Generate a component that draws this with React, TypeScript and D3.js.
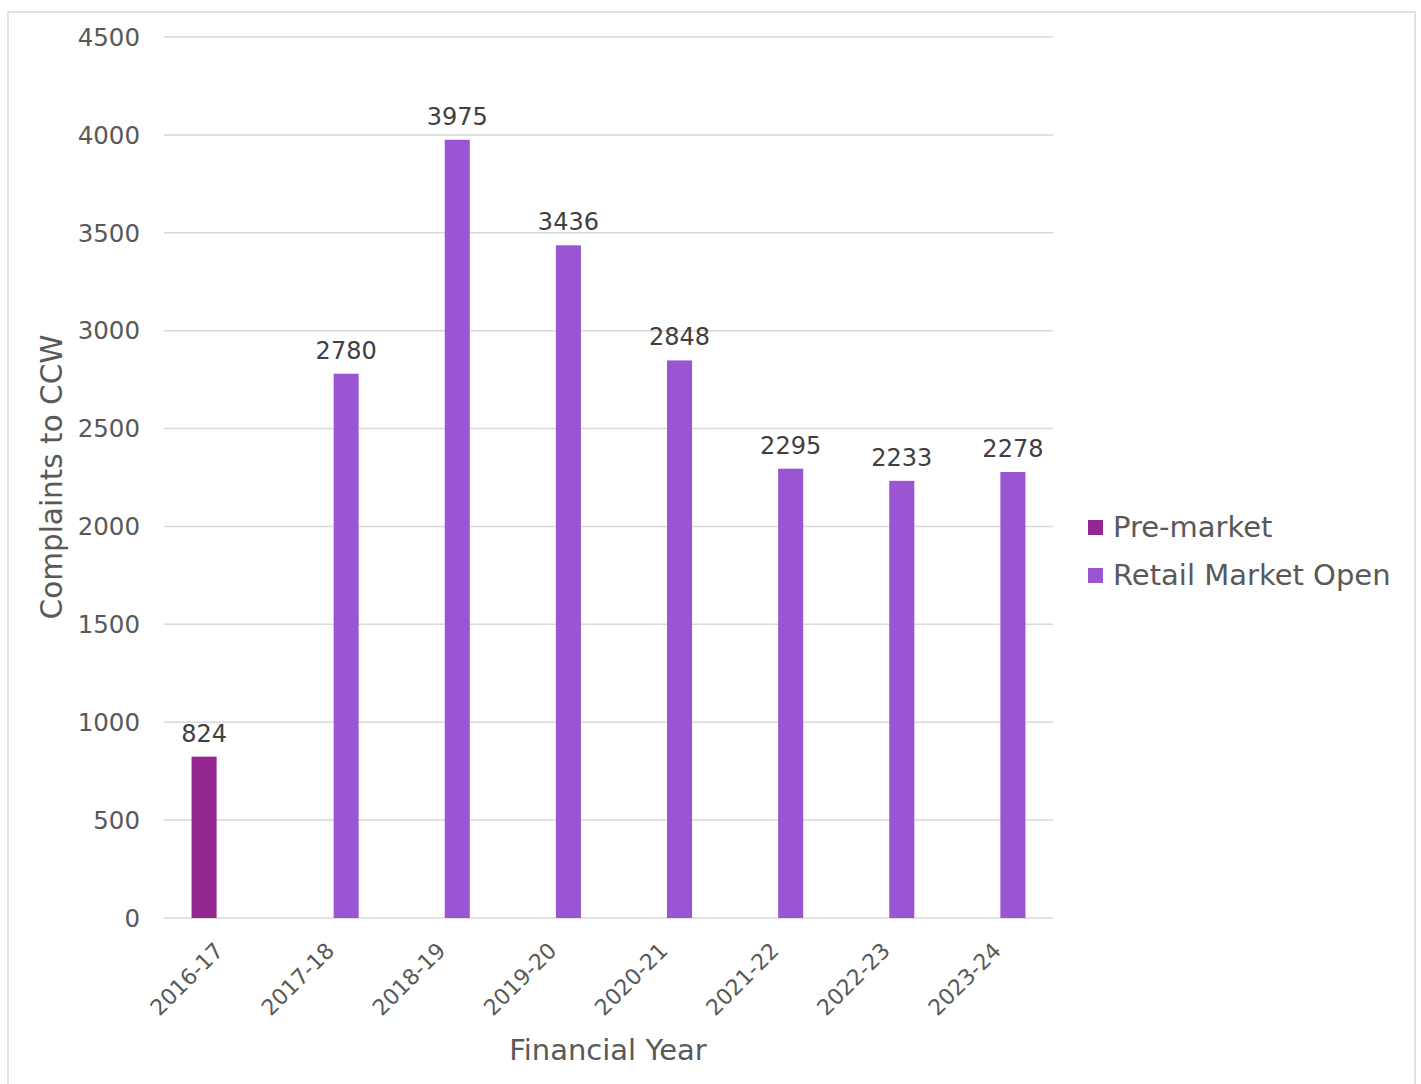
import React from "react";
import * as d3 from "d3";

const categories = ["2016-17", "2017-18", "2018-19", "2019-20", "2020-21", "2021-22", "2022-23", "2023-24"];
const seriesNames = ["Pre-market", "Retail Market Open"];
const preMarket: (number | null)[] = [824, null, null, null, null, null, null, null];
const retailOpen: (number | null)[] = [null, 2780, 3975, 3436, 2848, 2295, 2233, 2278];
const seriesColors = ["#93278F", "#9A56D2"];
const yTicks = [0, 500, 1000, 1500, 2000, 2500, 3000, 3500, 4000, 4500];

const FONT = "'DejaVu Sans', sans-serif";

export default function App() {
  const W = 1421, H = 1084;
  const left = 164, right = 1053, top = 37, bottom = 918;
  const x0 = d3.scaleBand<string>().domain(categories).range([left, right]).padding(0);
  const half = 28;
  const x1 = d3.scaleBand<string>().domain(seriesNames)
    .range([x0.bandwidth() / 2 - half, x0.bandwidth() / 2 + half]).paddingInner(0.19);
  const y = d3.scaleLinear().domain([0, 4500]).range([bottom, top]);
  const seriesData = [preMarket, retailOpen];

  return (
    <svg width={W} height={H} style={{ position: "absolute", left: 0, top: 0, background: "#fff" }} fontFamily={FONT}>
      <rect x={8} y={12} width={1407} height={1090} fill="#fff" stroke="#D9D9D9" strokeWidth={1.5} />
      {yTicks.map((t) => (
        <g key={t}>
          <line x1={left} x2={right} y1={y(t)} y2={y(t)} stroke="#D9D9D9" strokeWidth={1.5} />
          <text x={140} y={y(t)} dy="0.36em" textAnchor="end" fontSize={24.5} fill="#595959">{t}</text>
        </g>
      ))}
      {seriesData.map((vals, si) =>
        vals.map((v, ci) => {
          if (v == null) return null;
          const bx = (x0(categories[ci]) as number) + (x1(seriesNames[si]) as number);
          const bw = x1.bandwidth();
          return (
            <g key={`${si}-${ci}`}>
              <rect x={bx} y={y(v)} width={bw} height={y(0) - y(v)} fill={seriesColors[si]} />
              <text x={bx + bw / 2} y={y(v) - 15} textAnchor="middle" fontSize={24} fill="#404040">{v}</text>
            </g>
          );
        })
      )}
      {categories.map((c) => {
        const cx = (x0(c) as number) + x0.bandwidth() / 2;
        return (
          <text key={c} transform={`translate(${cx + 5},${952}) rotate(-45)`} textAnchor="end" fontSize={22} fill="#595959">{c}</text>
        );
      })}
      <text x={608} y={1060} textAnchor="middle" fontSize={29} fill="#595959">Financial Year</text>
      <text transform={`translate(${62},${477}) rotate(-90)`} textAnchor="middle" fontSize={29.5} fill="#595959">Complaints to CCW</text>
      {seriesNames.map((s, i) => (
        <g key={s}>
          <rect x={1088} y={520 + i * 48} width={15} height={15} fill={seriesColors[i]} />
          <text x={1113} y={527 + i * 48} dy="0.36em" fontSize={29} fill="#595959">{s}</text>
        </g>
      ))}
    </svg>
  );
}
